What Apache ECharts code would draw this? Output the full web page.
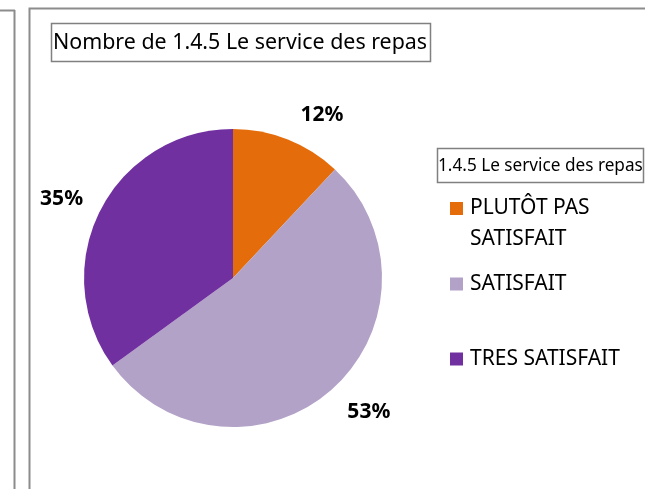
<!DOCTYPE html>
<html><head><meta charset="utf-8">
<script src="https://cdn.jsdelivr.net/npm/echarts@6/dist/echarts.min.js"></script>
<style>html,body{margin:0;padding:0;background:#fff}#c{width:645px;height:489px}</style>
</head><body><div id="c"></div>
<script>
const categories = ['PLUTÔT PAS SATISFAIT', 'SATISFAIT', 'TRES SATISFAIT'];
const values = [12, 53, 35];
const colors = ['#E46C0A', '#B3A2C7', '#7030A0'];
const chartTitle = 'Nombre de 1.4.5 Le service des repas';
const legendTitle = '1.4.5 Le service des repas';
const legendLabels = ['\nPLUTÔT PAS\nSATISFAIT', 'SATISFAIT', 'TRES SATISFAIT'];

const FONT = 'Noto Sans';
const chart = echarts.init(document.getElementById('c'), null, {renderer: 'canvas'});
const labelGaps = [3, -4, -6];
const labelLens = [26, 30, 26];
const pieData = categories.map((n, i) => ({name: n, value: values[i], itemStyle: {color: colors[i]},
  label: {distanceToLabelLine: labelGaps[i]}, labelLine: {length: labelLens[i]}}));
const legendTops = [162, 268.5, 343.5];
const legends = categories.map((n, i) => ({
  orient: 'vertical', left: 450, top: legendTops[i], padding: 0,
  data: [{name: n, itemStyle: {color: colors[i]}}],
  icon: 'rect', itemWidth: 13, itemHeight: 13, itemGap: 0, selectedMode: false,
  formatter: () => legendLabels[i],
  textStyle: {fontFamily: FONT, fontSize: 21, color: '#000', lineHeight: 31, padding: [0, 0, 0, 2]}
}));

chart.setOption({
  animation: false,
  title: [
    {text: chartTitle, left: 53, top: 32, padding: 0,
     textStyle: {fontFamily: FONT, fontSize: 21.4, fontWeight: 'normal', color: '#000'}},
    {text: legendTitle, left: 438, top: 158, padding: 0,
     textStyle: {fontFamily: FONT, fontSize: 17.2, fontWeight: 'normal', color: '#000'}}
  ],
  legend: legends,
  graphic: [
    {type: 'line', shape: {x1: 0, y1: 10.5, x2: 15, y2: 10.5}, style: {stroke: '#8c8c8c', lineWidth: 2}},
    {type: 'line', shape: {x1: 14.5, y1: 10, x2: 14.5, y2: 489}, style: {stroke: '#8c8c8c', lineWidth: 2}},
    {type: 'rect', shape: {x: 29.5, y: 8.5, width: 700, height: 600}, style: {fill: null, stroke: '#8c8c8c', lineWidth: 2}},
    {type: 'rect', shape: {x: 51.5, y: 23.5, width: 379, height: 38}, style: {fill: null, stroke: '#808080', lineWidth: 1.5}},
    {type: 'rect', shape: {x: 437.5, y: 148.5, width: 206, height: 34}, style: {fill: null, stroke: '#808080', lineWidth: 1.5}}
  ],
  series: [
    {type: 'pie', center: [233, 278], radius: 149, startAngle: 90, clockwise: true,
     silent: true, avoidLabelOverlap: false,
     labelLine: {show: false, length: 26, length2: 0},
     label: {show: true, position: 'outside', formatter: '{d}%', fontFamily: FONT, fontSize: 21,
       fontWeight: 'bold', color: '#000'},
     data: pieData}
  ]
});
</script></body></html>
